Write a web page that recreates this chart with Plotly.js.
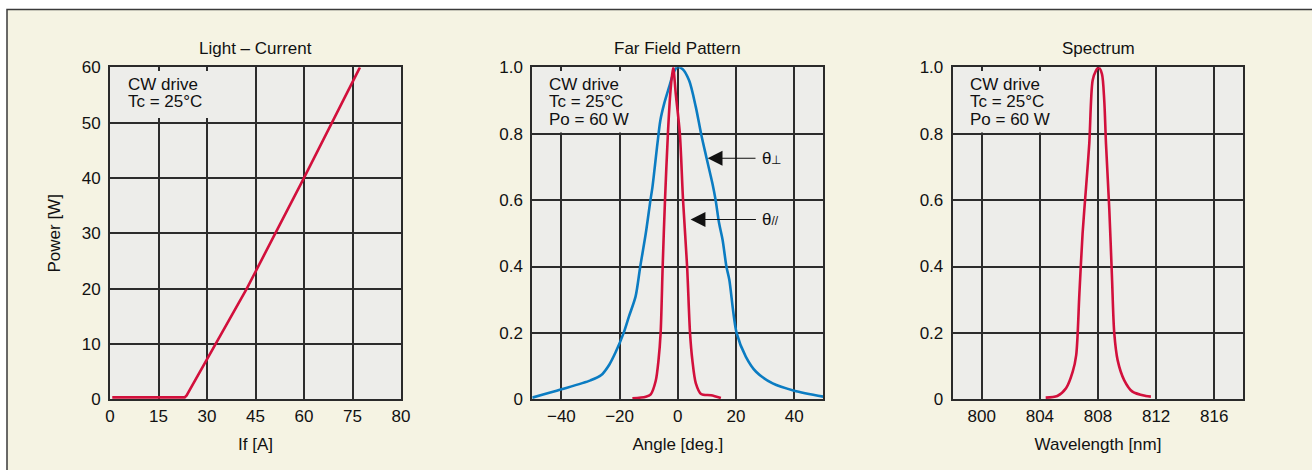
<!DOCTYPE html>
<html>
<head>
<meta charset="utf-8">
<script src="https://cdn.plot.ly/plotly-3.0.1.min.js"></script>
<style>
html,body{margin:0;padding:0;background:#ffffff;}
#chart{width:1312px;height:470px;}
</style>
</head>
<body>
<div id="chart"></div>
<script>
// ---------------- data ----------------
// Panel 1: Light - Current (tick "80" sits at the 90 position, as printed)
const lcCurrent = [0.7, 23.1, 23.7, 30, 32.7, 42.3, 51.4, 60, 77.3];
const lcPower   = [0.35, 0.35, 0.7, 7.2, 10, 20, 30.3, 40, 60];
const lcXTickVals = [0, 15, 30, 45, 60, 75, 90];
const lcXTickText = ['0', '15', '30', '45', '60', '75', '80'];
const lcYTickVals = [0, 10, 20, 30, 40, 50, 60];

// Panel 2: Far field pattern
const ffPerpAngle = [-50, -40, -30, -26.3, -23.5, -21.3, -18.6, -16.8, -14.5, -12.9, -11.0, -9.4, -8.7, -7.0, -6.0, -4.7, -3.0, -1.6, -0.3, 1.6, 3.9, 6.2, 8.0, 9.9, 11.9, 13.0, 14.2, 15.4, 16.7, 17.7, 20.2, 23.4, 26.9, 32.6, 40, 50];
const ffPerpValue = [0.005, 0.03, 0.057, 0.073, 0.105, 0.143, 0.2, 0.249, 0.31, 0.4, 0.5, 0.6, 0.64, 0.77, 0.84, 0.89, 0.94, 0.98, 1.0, 0.995, 0.96, 0.88, 0.80, 0.726, 0.65, 0.6, 0.53, 0.48, 0.4, 0.36, 0.2, 0.128, 0.083, 0.048, 0.026, 0.008];
const ffParAngle = [-15.6, -11, -9.3, -7.6, -6.6, -5.9, -5.2, -4.4, -3.4, -2.5, -1.6, -0.7, 0.7, 1.8, 3.2, 4.2, 5.0, 6.2, 8.0, 11.4, 14.8];
const ffParValue = [0.003, 0.008, 0.015, 0.055, 0.12, 0.2, 0.4, 0.6, 0.8, 0.93, 1.0, 0.92, 0.8, 0.6, 0.4, 0.2, 0.118, 0.048, 0.016, 0.012, 0.004];
const ffXTickVals = [-40, -20, 0, 20, 40];
const ffXTickText = ['\u221240', '\u221220', '0', '20', '40'];

// Panel 3: Spectrum
const spWavelength = [804.4, 805.2, 805.8, 806.26, 806.5, 806.72, 806.94, 807.18, 807.4, 807.63, 807.86, 808.04, 808.27, 808.43, 808.55, 808.78, 808.96, 809.12, 809.35, 809.8, 810.37, 811.29, 811.64];
const spValue      = [0.005, 0.01, 0.033, 0.083, 0.133, 0.319, 0.5, 0.64, 0.77, 0.96, 0.99, 1.0, 0.98, 0.9, 0.77, 0.57, 0.37, 0.199, 0.118, 0.058, 0.023, 0.01, 0.008];
const spXTickVals = [800, 804, 808, 812, 816];

const normYTickVals = [0, 0.2, 0.4, 0.6, 0.8, 1.0];
const normYTickText = ['0', '0.2', '0.4', '0.6', '0.8', '1.0'];

const panelTitles = ['Light \u2013 Current', 'Far Field Pattern', 'Spectrum'];
const xTitles = ['If [A]', 'Angle [deg.]', 'Wavelength [nm]'];
const yTitle1 = 'Power [W]';
const infoLines1 = ['CW drive', 'Tc = 25\u00B0C'];
const infoLines23 = ['CW drive', 'Tc = 25\u00B0C', 'Po = 60 W'];

// ---------------- styling ----------------
const F = '"Liberation Sans", Arial, Helvetica, sans-serif';
const RED = '#d2103c';
const BLUE = '#0b7cc2';
const CREAM = '#f5f3e3';
const PLOTBG = '#ededea';
const W = 1312, H = 470;
const yTop = 67.3, yBot = 399.3;
const yDom = [1 - yBot / H, 1 - yTop / H];
const xDoms = [[110 / W, 401 / W], [532.3 / W, 823.3 / W], [952.7 / W, 1243.3 / W]];

function ax(extra) {
  return Object.assign({
    showgrid: true, gridcolor: '#2c2c2c', gridwidth: 2,
    showline: true, mirror: true, linecolor: '#2a2a2a', linewidth: 2,
    zeroline: false, ticks: 'outside', ticklen: 4, tickcolor: 'rgba(0,0,0,0)',
    tickfont: {family: F, size: 17, color: '#111'},
    fixedrange: true, automargin: false
  }, extra);
}
function xax(extra) { return ax(Object.assign({ticks: '', ticklen: 0}, extra)); }

const SPL = {shape: 'spline', smoothing: 0.8};
const traces = [
  {x: lcCurrent, y: lcPower, xaxis: 'x', yaxis: 'y', mode: 'lines', line: {color: RED, width: 2.6}, hoverinfo: 'skip'},
  {x: ffPerpAngle, y: ffPerpValue, xaxis: 'x2', yaxis: 'y2', mode: 'lines', line: Object.assign({color: BLUE, width: 2.6}, SPL), hoverinfo: 'skip'},
  {x: ffParAngle, y: ffParValue, xaxis: 'x2', yaxis: 'y2', mode: 'lines', line: Object.assign({color: RED, width: 2.6}, SPL), hoverinfo: 'skip'},
  {x: spWavelength, y: spValue, xaxis: 'x3', yaxis: 'y3', mode: 'lines', line: Object.assign({color: RED, width: 2.6}, SPL), hoverinfo: 'skip'}
];

const titleFont = {family: F, size: 17, color: '#111'};

const layout = {
  width: W, height: H,
  margin: {l: 0, r: 0, t: 0, b: 0},
  paper_bgcolor: CREAM, plot_bgcolor: PLOTBG,
  showlegend: false,
  xaxis: xax({domain: xDoms[0], range: [0, 90], tickvals: lcXTickVals, ticktext: lcXTickText,
    title: {text: xTitles[0], font: titleFont, standoff: 13}}),
  yaxis: ax({domain: yDom, range: [0, 60], tickvals: lcYTickVals,
    title: {text: yTitle1, font: titleFont, standoff: 17}}),
  xaxis2: xax({domain: xDoms[1], range: [-50, 50], tickvals: ffXTickVals, ticktext: ffXTickText, anchor: 'y2',
    title: {text: xTitles[1], font: titleFont, standoff: 13}}),
  yaxis2: ax({domain: yDom, range: [0, 1], tickvals: normYTickVals, ticktext: normYTickText, anchor: 'x2'}),
  xaxis3: xax({domain: xDoms[2], range: [798, 818], tickvals: spXTickVals, anchor: 'y3',
    title: {text: xTitles[2], font: titleFont, standoff: 13}}),
  yaxis3: ax({domain: yDom, range: [0, 1], tickvals: normYTickVals, ticktext: normYTickText, anchor: 'x3'}),
  shapes: [],
  annotations: []
};

// outer frame (white outside, dark border)
layout.shapes.push(
  {type: 'rect', xref: 'paper', yref: 'paper', x0: -0.1, x1: 1.1, y0: 1 - 9.5 / H, y1: 1.1, fillcolor: '#ffffff', line: {width: 0}, layer: 'above'},
  {type: 'rect', xref: 'paper', yref: 'paper', x0: -0.1, x1: 7 / W, y0: -0.1, y1: 1.1, fillcolor: '#ffffff', line: {width: 0}, layer: 'above'},
  {type: 'path', xref: 'paper', yref: 'paper', path: `M ${7 / W} -0.1 L ${7 / W} ${1 - 9.5 / H} L 1.1 ${1 - 9.5 / H}`, line: {color: '#3a3a3a', width: 1.5}, layer: 'above'}
);

// info boxes hiding the grid behind the condition text
const boxRight = [(212 - 110) / 291, (636 - 532.3) / 291, (1058 - 952.7) / 290.6];
const boxBottom = [(yBot - 118) / (yBot - yTop), (yBot - 132.5) / (yBot - yTop), (yBot - 132.5) / (yBot - yTop)];
['', '2', '3'].forEach((s, i) => {
  layout.shapes.push({type: 'rect', xref: 'x' + s + ' domain', yref: 'y' + s + ' domain',
    x0: 0.006, x1: boxRight[i], y0: boxBottom[i], y1: (yBot - 71) / (yBot - yTop),
    fillcolor: PLOTBG, line: {width: 0}, layer: 'above'});
});

// panel titles
panelTitles.forEach((t, i) => {
  layout.annotations.push({text: t, xref: 'paper', yref: 'paper', x: (xDoms[i][0] + xDoms[i][1]) / 2,
    y: 1 - 48 / H, xanchor: 'center', yanchor: 'middle', showarrow: false, font: titleFont});
});

// condition text lines
const infoY = [84, 102, 120];
const infoX = [126, 546.7, 968.3];
[infoLines1, infoLines23, infoLines23].forEach((lines, i) => {
  lines.forEach((t, j) => {
    layout.annotations.push({text: t, xref: 'paper', yref: 'paper', x: infoX[i] / W, y: 1 - infoY[j] / H,
      xanchor: 'left', yanchor: 'middle', showarrow: false, font: titleFont});
  });
});

// arrows with theta labels
layout.annotations.push(
  {text: '\u03B8<span style="font-size:12px">\u22A5</span>', xref: 'x2', yref: 'y2', x: 10.26, y: 0.726,
   axref: 'x2', ayref: 'y2', ax: 32.2, ay: 0.726, showarrow: true, arrowhead: 2, arrowsize: 2.7, arrowwidth: 1.1,
   arrowcolor: '#111', startstandoff: 5, font: titleFont, xanchor: 'center'},
  {text: '\u03B8<span style="font-size:12px">//</span>', xref: 'x2', yref: 'y2', x: 4.4, y: 0.5416,
   axref: 'x2', ayref: 'y2', ax: 32.0, ay: 0.5416, showarrow: true, arrowhead: 2, arrowsize: 2.7, arrowwidth: 1.1,
   arrowcolor: '#111', startstandoff: 5, font: titleFont, xanchor: 'center'}
);

Plotly.newPlot('chart', traces, layout, {displayModeBar: false, staticPlot: true});
</script>
</body>
</html>
